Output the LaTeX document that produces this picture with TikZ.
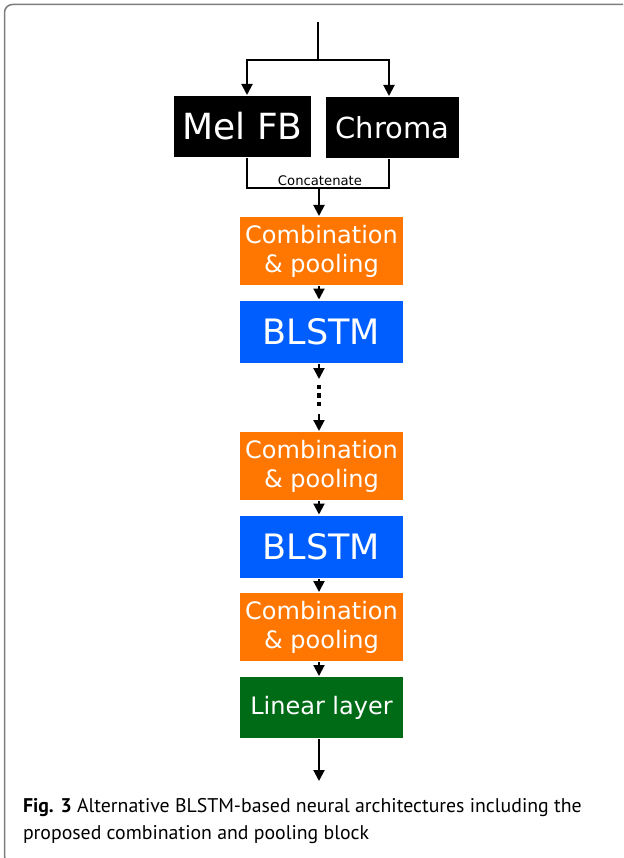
\documentclass[tikz,border=0pt]{standalone}
\usepackage{fontspec}
\setmainfont{DejaVu Sans}
\newfontfamily\capfont{PT Sans}
\usetikzlibrary{arrows.meta}

\definecolor{combo}{RGB}{255,119,0}
\definecolor{recur}{RGB}{0,94,255}
\definecolor{dense}{RGB}{0,107,22}
\definecolor{frame}{RGB}{125,125,125}

\begin{document}
\begin{tikzpicture}[x=1pt,y=1pt,>={Triangle[length=11pt,width=11pt]},line width=2pt,
  node distance=80.5pt,
  feat/.style={fill=black,text=white,minimum height=61pt,inner sep=0pt},
  block/.style={fill=#1,text=white,minimum width=163pt,inner sep=0pt,align=center,
    font=\fontsize{24}{29}\selectfont}]

  \useasboundingbox (0,0) rectangle (623,-858);
  \begin{scope}
    \clip (0,0) rectangle (623,-858);
    \draw[frame,line width=1.5pt,rounded corners=8pt] (4.5,-4.5) rectangle (640,-864);
  \end{scope}

  % input features
  \node[feat,minimum width=137pt,font=\fontsize{36}{36}\selectfont] (mel) at (242.5,-126.5) {Mel FB};
  \node[feat,minimum width=133pt,font=\fontsize{29}{29}\selectfont] (chroma) at (392.5,-127.5) {Chroma};

  % network stack
  \node[block=combo,minimum height=68pt] (comb1) at (321.5,-251) {Combination\\\& pooling};
  \node[block=recur,minimum height=62pt,font=\fontsize{35}{35}\selectfont] (blstm1) [below of=comb1] {BLSTM};
  \node[block=combo,minimum height=68pt] (comb2) [below of=blstm1,node distance=134.5pt] {Combination\\\& pooling};
  \node[block=recur,minimum height=62pt,font=\fontsize{35}{35}\selectfont] (blstm2) [below of=comb2] {BLSTM};
  \node[block=combo,minimum height=68pt] (comb3) [below of=blstm2] {Combination\\\& pooling};
  \node[block=dense,minimum height=61pt] (linear) [below of=comb3] {Linear layer};

  \coordinate (spine) at (319,0);
  \coordinate (input) at (318,-22);
  \coordinate (split) at (318,-60);
  \coordinate (merge) at (319,-188);
  \coordinate (skipTop) at (319,-379);
  \coordinate (dotsTop) at (319,-384.5);
  \coordinate (dotsBot) at (319,-407);
  \coordinate (skipBot) at (319,-414);
  \coordinate (output) at (319,-781);

  % split and concatenate
  \draw (input) -- (split);
  \draw[->] (split) -| ([xshift=4.5pt]mel.north);
  \draw[->] (split) -| ([xshift=-3.5pt]chroma.north);
  \draw ([xshift=4.5pt]mel.south) |- (merge) -| ([xshift=-3.5pt]chroma.south);
  \node[anchor=base,inner sep=0pt,font=\fontsize{13.2}{13.2}\selectfont] (concat) at (320,-185.5) {Concatenate};

  \draw[->] (merge) -- (comb1.north -| spine);
  \draw[->] (comb1.south -| spine) -- (blstm1.north -| spine);
  \draw[->] (blstm1.south -| spine) -- (skipTop);
  \draw[line width=4pt,dash pattern=on 4.5pt off 4pt] (dotsTop) -- (dotsBot);
  \draw[->] (skipBot) -- (comb2.north -| spine);
  \draw[->] (comb2.south -| spine) -- (blstm2.north -| spine);
  \draw[->] (blstm2.south -| spine) -- (comb3.north -| spine);
  \draw[->] (comb3.south -| spine) -- (linear.north -| spine);
  \draw[->] (linear.south -| spine) -- (output);

  % base is the last line here
  \node[anchor=base west,inner sep=0pt,align=left,font=\capfont\fontsize{19.8}{27}\selectfont] (caption) at (22,-839)
    {\textbf{Fig. 3} Alternative BLSTM-based neural architectures including the\\
     proposed combination and pooling block};
\end{tikzpicture}
\end{document}
